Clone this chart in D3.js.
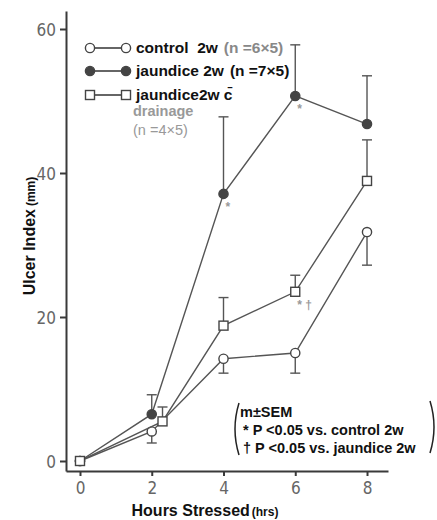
<!DOCTYPE html>
<html>
<head>
<meta charset="utf-8">
<script src="https://cdn.jsdelivr.net/npm/d3@7"></script>
<style>
  body { margin: 0; background: #fff; }
  svg { display: block; font-family: 'Liberation Sans', Arial, sans-serif; }
  .axis path, .axis line { stroke: #3a3a3a; stroke-width: 2; }
  .axis text { font-family: 'Liberation Sans Narrow', 'Arial Narrow', 'DejaVu Sans Condensed', 'Liberation Sans', sans-serif; font-size: 17px; fill: #666; }
  .series { fill: none; stroke: #555; stroke-width: 1.4; }
  .err { stroke: #555; stroke-width: 1.4; }
  .sig { fill: #999; font-size: 12px; font-weight: bold; }
</style>
</head>
<body>
<div id="chart"></div>
<script>
const hours = [0, 2, 4, 6, 8]
const drainageHours = [0, 2.3, 4, 6, 8]
const xTicks = [0, 2, 4, 6, 8]
const yTicks = [0, 20, 40, 60]

const controlMean = [0, 4.1, 14.2, 15.0, 31.8]
const controlSem = [0, 1.6, 2.0, 2.8, 4.6]
const jaundiceMean = [0, 6.5, 37.1, 50.7, 46.8]
const jaundiceSem = [0, 2.7, 10.7, 7.1, 6.7]
const drainageMean = [0, 5.5, 18.8, 23.5, 38.9]
const drainageSem = [0, 2.0, 3.9, 2.3, 5.7]

const jaundiceSig = ['', '', '*', '*', '']
const drainageSig = ['', '', '', '* \u2020', '']

const width = 437
const height = 520

const svg = d3.select('#chart').append('svg')
  .attr('width', width).attr('height', height)

const x = d3.scaleLinear().domain([-0.39, 8.585]).range([66, 388])
const y = d3.scaleLinear().domain([-1.39, 62.5]).range([471, 11])

const xAxis = d3.axisBottom(x)
  .tickValues(xTicks)
  .tickSizeInner(5)
  .tickSizeOuter(0)
  .tickPadding(6)

const yAxis = d3.axisLeft(y)
  .tickValues(yTicks)
  .tickSizeInner(6)
  .tickSizeOuter(0)
  .tickPadding(4)

svg.append('g')
  .attr('class', 'x axis')
  .attr('transform', `translate(0,${y.range()[0]})`)
  .call(xAxis)

svg.append('g')
  .attr('class', 'y axis')
  .attr('transform', `translate(${x.range()[0]},0)`)
  .call(yAxis)
  .selectAll('.tick text')
  .attr('fill', (d) => d === 40 ? '#111' : '#666')
  .attr('dy', '0.36em')

// axis titles
svg.append('text')
  .attr('transform', 'translate(35,236) rotate(-90)')
  .attr('text-anchor', 'middle')
  .attr('font-weight', 'bold')
  .attr('font-size', 16)
  .attr('fill', '#111')
  .call((t) => {
    t.append('tspan').text('Ulcer Index')
    t.append('tspan').attr('font-size', 12).attr('dx', 3).text('(mm)')
  })

svg.append('text')
  .attr('x', 205)
  .attr('y', 516)
  .attr('text-anchor', 'middle')
  .attr('font-weight', 'bold')
  .attr('font-size', 16)
  .attr('fill', '#111')
  .call((t) => {
    t.append('tspan').text('Hours Stressed')
    t.append('tspan').attr('font-size', 12).attr('dx', 2).text('(hrs)')
  })

const series = [
  { name: 'control', hrs: hours, mean: controlMean, sem: controlSem, dir: -1, marker: 'open', sig: null },
  { name: 'jaundice', hrs: hours, mean: jaundiceMean, sem: jaundiceSem, dir: 1, marker: 'filled', sig: jaundiceSig },
  { name: 'drainage', hrs: drainageHours, mean: drainageMean, sem: drainageSem, dir: 1, marker: 'square', sig: drainageSig }
]

const line = d3.line()
  .x((d) => x(d.h))
  .y((d) => y(d.m))

const drawMarker = (g, cx, cy, type) => {
  if (type === 'square') {
    g.append('rect')
      .attr('x', cx - 4.5).attr('y', cy - 4.5)
      .attr('width', 9).attr('height', 9)
      .attr('fill', '#fff').attr('stroke', '#444').attr('stroke-width', 1.4)
  } else {
    g.append('circle')
      .attr('cx', cx).attr('cy', cy).attr('r', 4.6)
      .attr('fill', type === 'filled' ? '#444' : '#fff')
      .attr('stroke', '#444').attr('stroke-width', 1.4)
  }
}

series.forEach((s) => {
  const pts = s.hrs.map((h, i) => ({ h, m: s.mean[i], e: s.sem[i], sig: s.sig ? s.sig[i] : '' }))
  const g = svg.append('g').attr('class', s.name)

  // error bars
  pts.filter((p) => p.e > 0).forEach((p) => {
    const end = y(p.m + s.dir * p.e)
    g.append('line').attr('class', 'err')
      .attr('x1', x(p.h)).attr('x2', x(p.h))
      .attr('y1', y(p.m)).attr('y2', end)
    g.append('line').attr('class', 'err')
      .attr('x1', x(p.h) - 5).attr('x2', x(p.h) + 5)
      .attr('y1', end).attr('y2', end)
  })

  g.append('path').attr('class', 'series').attr('d', line(pts))

  pts.forEach((p) => drawMarker(g, x(p.h), y(p.m), s.marker))

  pts.filter((p) => p.sig).forEach((p) => {
    g.append('text').attr('class', 'sig')
      .attr('x', x(p.h) + 2).attr('y', y(p.m) + 17)
      .attr('text-anchor', 'start')
      .text(p.sig)
  })
})

// legend
const legend = svg.append('g').attr('class', 'legend')
const legendRows = [
  { marker: 'open', label: 'control\u00a0 2w', extra: '(n =6\u00d75)', extraFill: '#888', y: 48 },
  { marker: 'filled', label: 'jaundice 2w', extra: '(n =7\u00d75)', extraFill: '#111', y: 71 },
  { marker: 'square', label: 'jaundice2w c\u0304', extra: '', extraFill: '#111', y: 95 }
]
legendRows.forEach((r) => {
  legend.append('line')
    .attr('x1', 90).attr('x2', 126)
    .attr('y1', r.y).attr('y2', r.y)
    .attr('stroke', '#333').attr('stroke-width', 1.4)
  drawMarker(legend, 90, r.y, r.marker)
  drawMarker(legend, 126, r.y, r.marker)
  const t = legend.append('text')
    .attr('x', 136).attr('y', r.y + 5)
    .attr('font-size', 15.5).attr('font-weight', 'bold').attr('fill', '#111')
  t.append('tspan').text(r.label)
  if (r.extra) t.append('tspan').attr('dx', 6).attr('fill', r.extraFill).text(r.extra)
})
legend.append('text')
  .attr('x', 133).attr('y', 116)
  .attr('font-size', 14.5).attr('font-weight', 'bold').attr('fill', '#999')
  .text('drainage')
legend.append('text')
  .attr('x', 133).attr('y', 135)
  .attr('font-size', 14.5).attr('fill', '#999')
  .text('(n =4\u00d75)')

// note box
const note = svg.append('g').attr('class', 'note')
const noteLines = ['m\u00b1SEM', '* P <0.05 vs. control 2w', '\u2020 P <0.05 vs. jaundice 2w']
noteLines.forEach((s, i) => {
  note.append('text')
    .attr('x', i === 0 ? 240 : 243).attr('y', 417 + i * 18)
    .attr('font-size', 14.5).attr('font-weight', 'bold').attr('fill', '#111')
    .text(s)
})
note.append('path')
  .attr('d', 'M239,403 Q231,429 239,455')
  .attr('fill', 'none').attr('stroke', '#222').attr('stroke-width', 1.5)
note.append('path')
  .attr('d', 'M430,401 Q438,427 430,453')
  .attr('fill', 'none').attr('stroke', '#222').attr('stroke-width', 1.5)
</script>
</body>
</html>
